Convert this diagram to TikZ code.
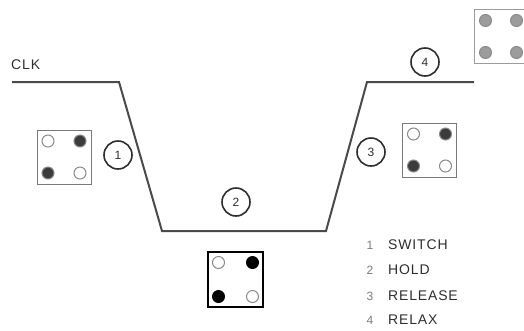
\documentclass[tikz,border=0pt]{standalone}
\usepackage{fontspec}
\setmainfont{Liberation Sans}[LetterSpace=6]
\usetikzlibrary{calc}
\definecolor{wave}{HTML}{4A4A4A}
\definecolor{ink}{HTML}{2E2E2E}
\definecolor{boxgray}{HTML}{7A7A7A}
\definecolor{pingray}{HTML}{8A8A8A}
\definecolor{pindark}{HTML}{3C3C3C}
\definecolor{pinlight}{HTML}{9C9C9C}
\definecolor{numgray}{HTML}{7A7A7A}
\tikzset{
  clk/.style={line width=2pt, draw=wave, line join=miter},
  tag/.style={circle, draw=ink, line width=1.6pt, minimum size=28pt, inner sep=0pt,
    font=\fontsize{12}{12}\selectfont, text=ink},
  pad/.style={draw=boxgray, line width=1pt, minimum size=54pt, inner sep=0pt},
  openpin/.style={draw=pingray, line width=1pt, fill=white},
  darkpin/.style={draw=pingray, line width=1pt, fill=pindark},
  blackpin/.style={fill=black},
  greypin/.style={draw=pingray, line width=1pt, fill=pinlight},
  legend/.style={anchor=west, inner sep=0pt, font=\fontsize{14}{14}\selectfont, text=ink},
  legnum/.style={inner sep=0pt, font=\fontsize{12}{12}\selectfont, text=numgray}
}
\begin{document}
\begin{tikzpicture}[x=1pt, y=-1pt]
    \useasboundingbox (0,0) rectangle (524,330);

    % clock waveform
    \coordinate (W0) at (12, 82);
    \coordinate (W1) at (119, 82);
    \coordinate (W2) at (162, 231);
    \coordinate (W3) at (326, 231);
    \coordinate (W4) at (367, 82);
    \coordinate (W5) at (474, 82);
    \draw[clk] (W0) -- (W1) -- (W2) -- (W3) -- (W4) -- (W5);
    \node[anchor=south west, inner sep=0pt, text=ink, font=\fontsize{14}{14}\selectfont] (clk) at (11, 70) {CLK};

    % phase tags
    \node[tag] (c1) at (118, 155) {1};
    \node[tag] (c2) at (236, 202) {2};
    \node[tag] (c3) at (371, 152) {3};
    \node[tag] (c4) at (425, 62) {4};

    % pad boxes
    \node[pad] (p1) at (64, 157) {};
    \node[pad, draw=black, line width=1.5pt, minimum size=55pt] (p2) at (235.5, 279.5) {};
    \node[pad] (p3) at (429.5, 150) {};
    \node[pad, draw=pinlight] (p4) at (501, 36.5) {};

    % pins of box 1
    \filldraw[openpin] ($(p1)+(-16,-16)$) circle (6);
    \filldraw[darkpin] ($(p1)+(16,-16)$) circle (6);
    \filldraw[darkpin] ($(p1)+(-16,16)$) circle (6);
    \filldraw[openpin] ($(p1)+(16,16)$) circle (6);

    % pins of box 2
    \filldraw[openpin] ($(p2)+(-17,-17)$) circle (6);
    \fill[blackpin] ($(p2)+(17,-17)$) circle (6.5);
    \fill[blackpin] ($(p2)+(-17,17)$) circle (6.5);
    \filldraw[openpin] ($(p2)+(17,17)$) circle (6);

    % pins of box 3
    \filldraw[openpin] ($(p3)+(-16,-16)$) circle (6);
    \filldraw[darkpin] ($(p3)+(16,-16)$) circle (6);
    \filldraw[darkpin] ($(p3)+(-16,16)$) circle (6);
    \filldraw[openpin] ($(p3)+(16,16)$) circle (6);

    % pins of box 4
    \filldraw[greypin] ($(p4)+(-15.5,-16)$) circle (6);
    \filldraw[greypin] ($(p4)+(15.5,-16)$) circle (6);
    \filldraw[greypin] ($(p4)+(-15.5,16)$) circle (6);
    \filldraw[greypin] ($(p4)+(15.5,16)$) circle (6);

    % legend
    \node[legnum] (n1) at (370, 245) {1};
    \node[legnum] (n2) at (370, 270) {2};
    \node[legnum] (n3) at (370, 296) {3};
    \node[legnum] (n4) at (370, 320) {4};
    \node[legend] (l1) at (388, 245) {SWITCH};
    \node[legend] (l2) at (388, 270) {HOLD};
    \node[legend] (l3) at (388, 296) {RELEASE};
    \node[legend] (l4) at (388, 320) {RELAX};
\end{tikzpicture}
\end{document}
